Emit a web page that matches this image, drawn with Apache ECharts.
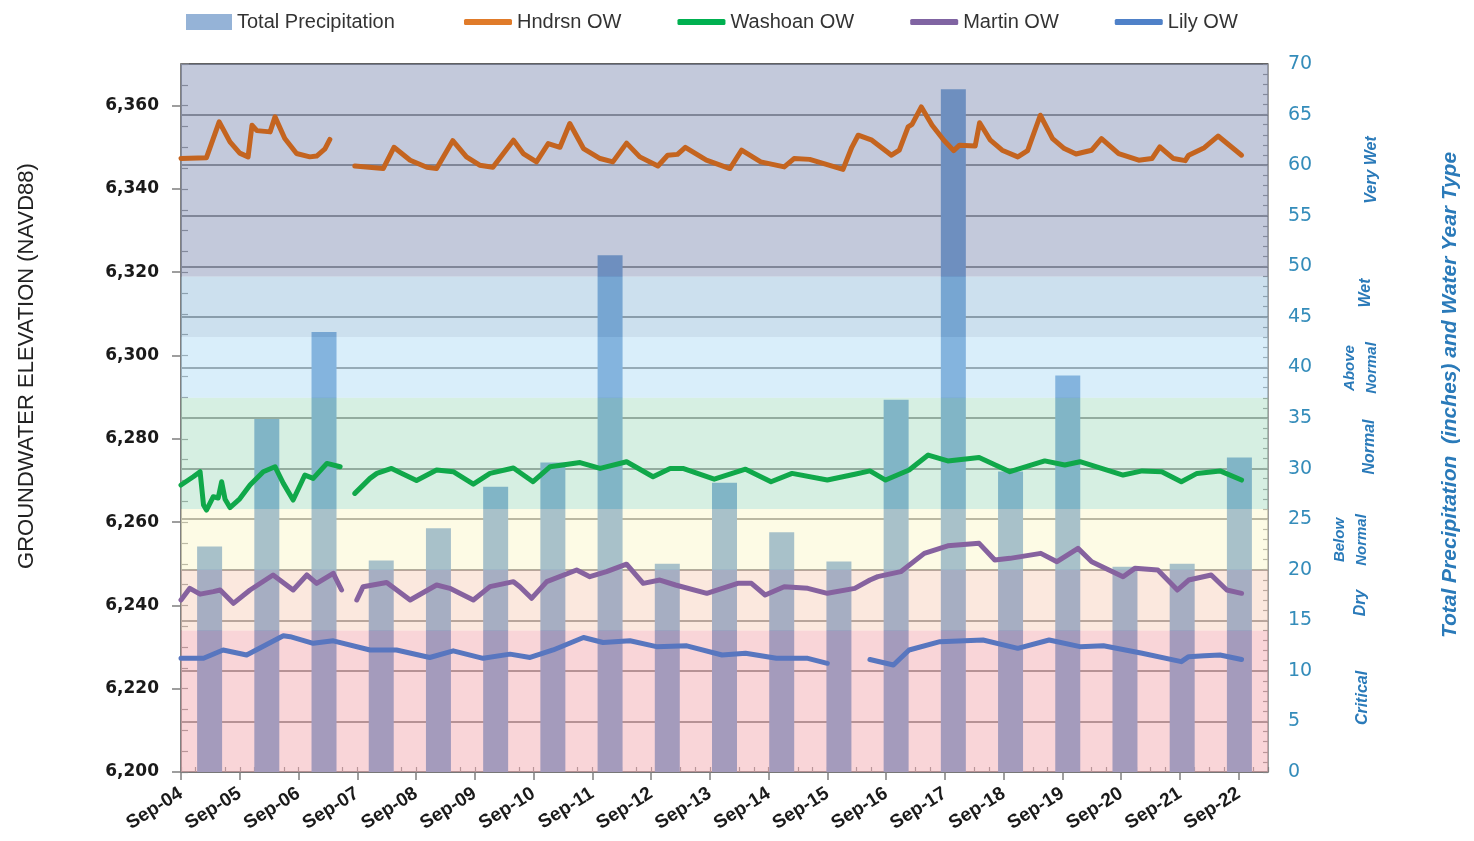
<!DOCTYPE html>
<html>
<head>
<meta charset="utf-8">
<script src="https://cdn.jsdelivr.net/npm/echarts@6/dist/echarts.min.js"></script>
<style>
html,body{margin:0;padding:0;background:#fff;}
#chart{width:1474px;height:841px;}
</style>
</head>
<body>
<div id="chart"></div>
<script>
// ---- DATA ----
// Water-year precipitation bars (inches), one per year
const waterYears = ['2004','2005','2006','2007','2008','2009','2010','2011','2012','2013','2014','2015','2016','2017','2018','2019','2020','2021','2022'];
const precipitation = [22.3,34.9,43.5,20.9,24.1,28.2,30.6,51.1,20.6,28.6,23.7,20.8,36.8,67.5,29.7,39.2,20.3,20.6,31.1];

// x tick labels (one per September, months counted from Sep-04)
const xTickLabels = ['Sep-04','Sep-05','Sep-06','Sep-07','Sep-08','Sep-09','Sep-10','Sep-11','Sep-12','Sep-13','Sep-14','Sep-15','Sep-16','Sep-17','Sep-18','Sep-19','Sep-20','Sep-21','Sep-22'];

// Groundwater elevation: months since Sep-2004 and elevation (ft NAVD88); null = gap
const hndrsnMonth = [0,5.2,7.8,10,12,13.7,14.5,15.5,18.2,19.2,21.2,23.6,26.3,27.7,29.4,30.4,33,35.5,41.3,43.5,46.8,50.2,52.2,55.5,58.3,61,63.7,67.9,69.9,72.6,75,77.4,79.4,82.2,85.6,88.2,91,93.7,97.4,99.4,101.4,103,107.3,112.1,114.5,118.4,123.2,125.2,128.4,135.2,137,138.3,141.1,145.1,146.7,148.5,149.3,151.2,153.4,155.8,157.8,159,162.2,163.1,165.3,167.7,170.9,172.9,175.5,178,180.4,182.8,186,188,191.5,195.6,198.3,199.9,202.7,205.1,205.8,209,211.8,216.6];
const hndrsnElev = [6347.3,6347.5,6356.1,6351.3,6348.6,6347.7,6355.3,6354.0,6353.7,6357.3,6352.1,6348.5,6347.7,6347.9,6349.6,6351.9,null,6345.5,6344.9,6350,6346.9,6345.2,6344.9,6351.6,6347.7,6345.7,6345.2,6351.7,6348.5,6346.5,6350.9,6350,6355.7,6349.7,6347.3,6346.5,6351,6347.7,6345.5,6348.1,6348.3,6350,6346.9,6344.9,6349.3,6346.5,6345.3,6347.3,6347.1,6344.7,6350,6352.9,6351.7,6348.1,6349.3,6354.9,6355.5,6359.7,6355.3,6351.7,6349.2,6350.5,6350.3,6355.9,6351.7,6349.3,6347.7,6349.2,6357.7,6352.1,6349.7,6348.4,6349.3,6352.1,6348.5,6346.9,6347.3,6350.1,6347.3,6346.8,6348.1,6349.9,6352.7,6348.1];

const washoanMonth = [0,2.5,3.9,4.6,5.2,6.6,7.6,8.3,9,10,12,14.1,16.8,19.2,20.9,22.9,25.3,27,29.8,32.5,34,35.5,38.6,40,43,48.1,52.2,55.6,59.7,63.1,67.9,71.9,75.4,81.5,85.6,91,96.4,99.9,102.5,108.9,115.3,120.5,124.8,132,137.6,140.7,143.9,148.7,152.6,156.6,163,169.3,176.4,180.5,183.6,192.4,196.3,200.3,204.3,207.5,212.2,216.6];
const washoanElev = [6268.9,6270.9,6272.1,6264.1,6262.9,6266.1,6265.8,6269.7,6265.5,6263.5,6265.6,6268.9,6272.1,6273.3,6269.3,6265.3,6271.3,6270.5,6274.1,6273.3,null,6266.9,6270.5,6271.7,6272.9,6270.0,6272.5,6272.1,6269.1,6271.7,6273.0,6269.7,6273.3,6274.3,6272.9,6274.5,6270.9,6272.9,6272.9,6270.3,6272.7,6269.7,6271.7,6270.1,6271.5,6272.3,6270.1,6272.5,6276.1,6274.7,6275.5,6272.1,6274.7,6273.7,6274.5,6271.3,6272.3,6272.1,6269.7,6271.7,6272.3,6270.1];

const martinMonth = [0,1.8,3.9,6.6,8,10.7,14.1,18.8,22.9,25.7,27.7,31.1,32.8,34,35.9,37.2,42,46.8,52.2,54.9,59.7,63.1,67.9,69.2,71.6,74.7,80.8,83.5,86.9,91,94.4,97.8,101,107.4,113.7,116.5,119.3,123.2,128,132,137.6,140.7,142.3,147,151.8,156.6,163,166.2,169.3,175.6,178.9,183.2,186,192.4,194.8,199.5,203.5,205.8,210.4,213.6,216.6];
const martinElev = [6241.3,6244.1,6242.7,6243.3,6243.7,6240.5,6243.7,6247.3,6243.7,6247.3,6245.3,6247.7,6243.7,null,6241.3,6244.5,6245.5,6241.3,6244.9,6244.1,6241.3,6244.5,6245.7,6244.5,6241.7,6245.7,6248.5,6246.9,6248.1,6249.9,6245.3,6246.1,6244.9,6242.9,6245.3,6245.3,6242.5,6244.5,6244.1,6242.9,6244.1,6246.1,6246.9,6248.1,6252.5,6254.3,6254.9,6250.9,6251.3,6252.5,6250.5,6253.7,6250.5,6246.9,6248.9,6248.5,6243.7,6246.1,6247.3,6243.7,6242.9];

const lilyMonth = [0,4.6,8.6,13.4,20.9,22.3,27,31.1,38.6,44,50.8,55.6,61.7,67.2,71.3,76,82.2,86.2,91.7,97.1,103.3,110.5,115.3,121.6,128,132,136,140.7,145.5,148.7,155,163.8,170.9,177.3,183.6,188.4,196.3,204.3,205.8,209,212.2,216.6];
const lilyElev = [6227.3,6227.3,6229.3,6228.1,6232.7,6232.5,6230.9,6231.5,6229.3,6229.3,6227.5,6229.1,6227.3,6228.3,6227.5,6229.3,6232.3,6231.1,6231.5,6230.1,6230.3,6228.1,6228.5,6227.3,6227.3,6226.1,null,6227,6225.7,6229.3,6231.3,6231.7,6229.7,6231.7,6230.1,6230.3,6228.5,6226.5,6227.7,6227.9,6228.1,6227];

// Water year type bands (precipitation thresholds, inches)
const bandNames = ['Critical','Dry','Below Normal','Normal','Above Normal','Wet','Very Wet'];
const bandLower = [0,14,20,26,37,43,49];
const bandUpper = [14,20,26,37,43,49,70];

// ---- STYLE ----
const bandColors = ['rgba(243,171,177,0.5)','rgba(247,209,189,0.5)','rgba(251,247,203,0.5)','rgba(173,223,197,0.5)','rgba(179,221,245,0.5)','rgba(153,193,221,0.5)','rgba(135,147,183,0.5)'];
const lineColors = {hndrsn:'#c4641f', washoan:'#10a84a', martin:'#86629f', lily:'#5876bf'};
const legendColors = {hndrsn:'#e07b2a', washoan:'#00b050', martin:'#8064a2', lily:'#4f81c8'};
const wyBlue = '#2a7ab9';

function pairs(ms, vs){ return ms.map((m,i)=>[m, vs[i]]); }

const chart = echarts.init(document.getElementById('chart'), null, {renderer:'canvas'});

function lineSeries(name, key, ms, vs){
  return {
    name: name, type:'line', xAxisIndex:1, yAxisIndex:0,
    data: pairs(ms, vs), showSymbol:false, symbol:'none', connectNulls:false,
    lineStyle:{color:lineColors[key], width:5, cap:'round', join:'round'},
    itemStyle:{color:lineColors[key]}, z:10, silent:true
  };
}

const option = {
  animation:false,
  backgroundColor:'#ffffff',
  grid:{left:181, right:206, top:64, bottom:69, show:true, borderColor:'#7f7f7f', borderWidth:1.5, backgroundColor:'transparent'},
  legend:[
    {left:181, top:7, icon:'rect', itemWidth:46, itemHeight:16, selectedMode:false,
     textStyle:{fontFamily:'Liberation Sans', fontSize:20, color:'#333'},
     data:[{name:'Total Precipitation', itemStyle:{color:'#95b3d7'}}]},
    {left:459, top:7, icon:'roundRect', itemWidth:48, itemHeight:6, itemGap:56, selectedMode:false,
     textStyle:{fontFamily:'Liberation Sans', fontSize:20, color:'#333'},
     data:[
       {name:'Hndrsn OW', itemStyle:{color:legendColors.hndrsn}},
       {name:'Washoan OW', itemStyle:{color:legendColors.washoan}},
       {name:'Martin OW', itemStyle:{color:legendColors.martin}},
       {name:'Lily OW', itemStyle:{color:legendColors.lily}}
     ]}
  ],
  xAxis:[
    {type:'category', data:waterYears, show:false, boundaryGap:true, gridIndex:0},
    {type:'value', min:0, max:222, interval:12, position:'bottom',
     axisLine:{show:true, lineStyle:{color:'#7f7f7f', width:1.5}},
     axisTick:{show:true, length:8, lineStyle:{color:'#7f7f7f', width:1.5}},
     splitLine:{show:false},
     axisLabel:{rotate:32, margin:20, fontFamily:'Liberation Sans', fontWeight:'bold', fontSize:19, color:'#1a1a1a',
       showMaxLabel:false,
       formatter:function(v){ const i = Math.round(v/12); return (v%12===0 && i < xTickLabels.length) ? xTickLabels[i] : ''; }}},
    {type:'value', min:0, max:222, interval:3, position:'bottom',
     axisLine:{show:false}, axisLabel:{show:false}, splitLine:{show:false},
     axisTick:{show:true, inside:true, length:5, lineStyle:{color:'#7f7f7f', width:1.2}}}
  ],
  yAxis:[
    {type:'value', min:6200, max:6370, interval:20, position:'left',
     axisLine:{show:true, lineStyle:{color:'#7f7f7f', width:1.5}},
     axisTick:{show:true, length:9, lineStyle:{color:'#7f7f7f', width:1.5}},
     splitLine:{show:false},
     axisLabel:{margin:22, fontFamily:'DejaVu Sans', fontWeight:'bold', fontSize:17, color:'#1a1a1a', showMaxLabel:false,
       formatter:function(v){ return (v%20===0 && v<=6360) ? v.toLocaleString('en-US') : ''; }}},
    {type:'value', min:0, max:70, interval:5, position:'right',
     axisLine:{show:true, lineStyle:{color:'#7f7f7f', width:1.5}},
     axisTick:{show:true, length:8, lineStyle:{color:'#7f7f7f', width:1.5}},
     splitLine:{show:true, lineStyle:{color:'#4d4d4d', width:1.5}},
     axisLabel:{margin:20, fontFamily:'DejaVu Sans', fontSize:19, color:'#348cba'}},
    {type:'value', min:6200, max:6370, interval:5, position:'left',
     axisLine:{show:false}, axisLabel:{show:false}, splitLine:{show:false},
     axisTick:{show:true, inside:true, length:7, lineStyle:{color:'#7f7f7f', width:1.2}}},
    {type:'value', min:0, max:70, interval:1, position:'right',
     axisLine:{show:false}, axisLabel:{show:false}, splitLine:{show:false},
     axisTick:{show:true, inside:true, length:5, lineStyle:{color:'#7f7f7f', width:1.2}}}
  ],
  series:[
    {name:'Total Precipitation', type:'bar', xAxisIndex:0, yAxisIndex:1, data:precipitation,
     barWidth:25, itemStyle:{color:'#558bc7'}, z:2, silent:true},
    {name:'bands', type:'line', xAxisIndex:1, yAxisIndex:1, data:[], z:5, silent:true,
     markArea:{silent:true, z:5, data: bandNames.map((n,i)=>[
       {yAxis:bandLower[i], itemStyle:{color:bandColors[i]}},
       {yAxis:bandUpper[i]}
     ])}},
    lineSeries('Hndrsn OW','hndrsn',hndrsnMonth,hndrsnElev),
    lineSeries('Washoan OW','washoan',washoanMonth,washoanElev),
    lineSeries('Martin OW','martin',martinMonth,martinElev),
    lineSeries('Lily OW','lily',lilyMonth,lilyElev)
  ],
  graphic:[
    {type:'text', x:27, y:366, rotation:Math.PI/2,
     style:{text:'GROUNDWATER ELEVATION (NAVD88)', font:'22px "Liberation Sans"', fill:'#222', textAlign:'center', textVerticalAlign:'middle'}},
    {type:'text', x:1450, y:395, rotation:Math.PI/2,
     style:{text:'Total Precipitation  (inches) and Water Year Type', font:'italic bold 21px "Liberation Sans"', fill:wyBlue, textAlign:'center', textVerticalAlign:'middle'}},
    {type:'text', x:1372, y:170, rotation:Math.PI/2,
     style:{text:'Very Wet', font:'italic bold 16px "Liberation Sans"', fill:wyBlue, textAlign:'center', textVerticalAlign:'middle'}},
    {type:'text', x:1366, y:293, rotation:Math.PI/2,
     style:{text:'Wet', font:'italic bold 16px "Liberation Sans"', fill:wyBlue, textAlign:'center', textVerticalAlign:'middle'}},
    {type:'text', x:1361, y:368, rotation:Math.PI/2,
     style:{text:'Above\nNormal', font:'italic bold 15px "Liberation Sans"', lineHeight:22, fill:wyBlue, textAlign:'center', textVerticalAlign:'middle'}},
    {type:'text', x:1370, y:447, rotation:Math.PI/2,
     style:{text:'Normal', font:'italic bold 16px "Liberation Sans"', fill:wyBlue, textAlign:'center', textVerticalAlign:'middle'}},
    {type:'text', x:1351, y:540, rotation:Math.PI/2,
     style:{text:'Below\nNormal', font:'italic bold 15px "Liberation Sans"', lineHeight:22, fill:wyBlue, textAlign:'center', textVerticalAlign:'middle'}},
    {type:'text', x:1361, y:603, rotation:Math.PI/2,
     style:{text:'Dry', font:'italic bold 16px "Liberation Sans"', fill:wyBlue, textAlign:'center', textVerticalAlign:'middle'}},
    {type:'text', x:1363, y:698, rotation:Math.PI/2,
     style:{text:'Critical', font:'italic bold 16px "Liberation Sans"', fill:wyBlue, textAlign:'center', textVerticalAlign:'middle'}}
  ]
};
chart.setOption(option);
</script>
</body>
</html>
